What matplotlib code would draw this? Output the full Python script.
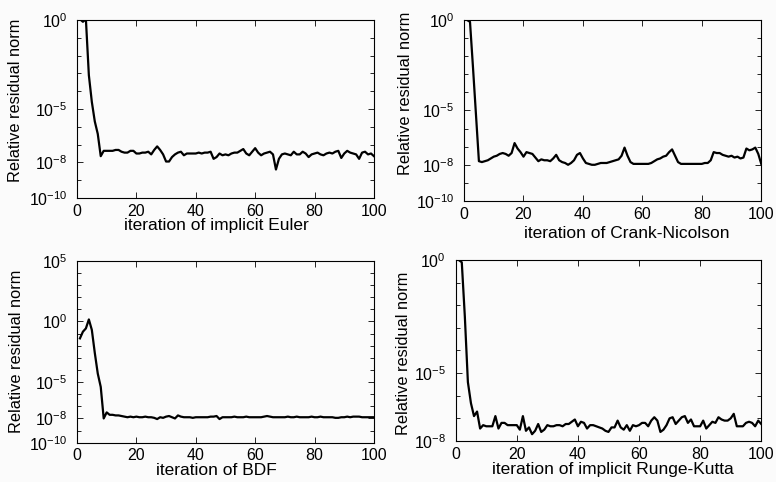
import numpy as np
import matplotlib.pyplot as plt
from matplotlib.ticker import FixedLocator, NullFormatter

plt.rcParams['font.family'] = ['Liberation Sans', 'DejaVu Sans']
plt.rcParams['mathtext.default'] = 'regular'

iters = np.arange(1, 101)

# log10 of the relative residual norm
euler_exp = [0.05, -0.1, 0.05, -3.1, -4.6, -5.7, -6.4, -7.65, -7.35, -7.35,
             -7.35, -7.35, -7.3, -7.3, -7.4, -7.45, -7.45, -7.35, -7.35, -7.5,
             -7.5, -7.45, -7.45, -7.4, -7.55, -7.3, -7.1, -7.3, -7.55, -7.95,
             -7.95, -7.7, -7.55, -7.45, -7.4, -7.6, -7.5, -7.5, -7.5, -7.5,
             -7.45, -7.5, -7.45, -7.45, -7.4, -7.8, -7.7, -7.5, -7.6, -7.55,
             -7.6, -7.5, -7.45, -7.45, -7.35, -7.25, -7.5, -7.6, -7.4, -7.2,
             -7.45, -7.6, -7.5, -7.45, -7.4, -7.55, -8.4, -7.8, -7.55, -7.5,
             -7.55, -7.6, -7.4, -7.55, -7.55, -7.4, -7.5, -7.7, -7.55, -7.5,
             -7.45, -7.55, -7.6, -7.5, -7.45, -7.5, -7.4, -7.35, -7.75, -7.5,
             -7.35, -7.45, -7.5, -7.55, -7.8, -7.45, -7.4, -7.55, -7.5, -7.65]

cn_exp = [0.0, -0.1, -2.6, -5.2, -7.8, -7.85, -7.8, -7.75, -7.65, -7.55,
          -7.5, -7.4, -7.35, -7.4, -7.5, -7.35, -6.8, -7.1, -7.3, -7.55,
          -7.3, -7.35, -7.4, -7.6, -7.8, -7.7, -7.75, -7.75, -7.8, -7.65,
          -7.45, -7.75, -7.85, -7.9, -8.0, -7.9, -7.75, -7.45, -7.35, -7.65,
          -7.9, -7.95, -8.0, -8.0, -7.95, -7.9, -7.9, -7.9, -7.85, -7.8,
          -7.75, -7.7, -7.5, -7.05, -7.5, -7.85, -7.95, -7.95, -7.95, -7.95,
          -7.95, -7.95, -7.9, -7.8, -7.7, -7.65, -7.55, -7.5, -7.3, -7.15,
          -7.5, -7.85, -7.95, -7.95, -7.95, -7.95, -7.95, -7.95, -7.95, -7.95,
          -7.9, -7.9, -7.75, -7.3, -7.35, -7.35, -7.45, -7.5, -7.55, -7.5,
          -7.6, -7.55, -7.65, -7.6, -7.1, -7.2, -7.15, -7.05, -7.4, -7.95]

bdf_exp = [-1.4, -0.85, -0.58, 0.16, -0.7, -2.6, -4.3, -5.4, -8.0, -7.5,
           -7.7, -7.7, -7.75, -7.75, -7.8, -7.85, -7.9, -7.85, -7.9, -7.85,
           -7.9, -7.9, -7.85, -7.9, -7.9, -7.95, -8.05, -7.9, -7.95, -7.85,
           -7.8, -7.9, -8.0, -7.75, -7.85, -7.9, -7.9, -7.9, -7.95, -7.9,
           -7.9, -7.9, -7.9, -7.9, -7.85, -7.85, -7.8, -8.05, -7.9, -7.9,
           -7.9, -7.9, -7.85, -7.9, -7.9, -7.9, -7.85, -7.9, -7.9, -7.9,
           -7.9, -7.9, -7.85, -7.8, -7.85, -7.9, -7.9, -7.9, -7.9, -7.9,
           -7.85, -7.9, -7.9, -7.85, -7.9, -7.9, -7.9, -7.9, -7.85, -7.9,
           -7.9, -7.85, -7.9, -7.9, -7.9, -7.9, -7.95, -7.95, -7.9, -7.9,
           -7.85, -7.9, -7.85, -7.85, -7.85, -7.9, -7.9, -7.9, -7.9, -7.9]

rk_exp = [0.0, -0.1, -2.5, -5.4, -6.33, -6.9, -6.7, -7.45, -7.3, -7.35,
          -7.35, -7.35, -6.9, -7.45, -7.2, -7.2, -7.3, -7.3, -7.3, -7.3,
          -7.5, -6.9, -7.55, -7.4, -7.7, -7.55, -7.25, -7.6, -7.5, -7.3,
          -7.35, -7.35, -7.3, -7.3, -7.35, -7.25, -7.25, -7.15, -7.05, -7.35,
          -7.15, -7.2, -7.45, -7.3, -7.3, -7.35, -7.4, -7.45, -7.55, -7.6,
          -7.4, -7.4, -7.1, -7.4, -7.5, -7.3, -7.55, -7.3, -7.35, -7.3,
          -7.2, -7.2, -7.35, -7.1, -6.95, -7.1, -7.6, -7.5, -7.3, -7.0,
          -6.95, -7.25, -7.1, -6.95, -6.9, -7.2, -7.05, -7.35, -7.35, -7.35,
          -7.1, -7.45, -7.3, -7.15, -7.2, -6.95, -7.05, -7.1, -7.1, -7.0,
          -6.8, -7.35, -7.35, -7.35, -7.2, -7.15, -7.2, -7.35, -7.1, -7.25]

xlabels = ['iteration of implicit Euler', 'iteration of Crank-Nicolson',
           'iteration of BDF', 'iteration of implicit Runge-Kutta']
ylims = [(-10, 0), (-10, 0), (-10, 5), (-8, 0)]
yticks_exp = [[-10, -8, -5, 0], [-10, -8, -5, 0], [-10, -8, -5, 0, 5], [-8, -5, 0]]

# axes boxes in figure fractions
boxes = [[0.0992, 0.5892, 0.3827, 0.3693],
         [0.5980, 0.5830, 0.3830, 0.3755],
         [0.0992, 0.0815, 0.3827, 0.3776],
         [0.5872, 0.0851, 0.3938, 0.3755]]
ylab_pos = [(-0.182, 0.55), (-0.173, 0.597), (-0.178, 0.5), (-0.145, 0.483)]
xlab_pos = [(0.471, -0.112), (0.547, -0.138), (0.47, -0.112), (0.514, -0.116)]

fig = plt.figure(figsize=(7.76, 4.82), dpi=100)
fig.patch.set_facecolor('#fbfbfb')

series = [euler_exp, cn_exp, bdf_exp, rk_exp]
for i in range(4):
    ax = fig.add_axes(boxes[i])
    ax.set_facecolor('#fbfbfb')
    ax.plot(iters, 10.0 ** np.array(series[i]), color='black', lw=1.6)
    ax.set_yscale('log')
    ax.set_xlim(0, 100)
    lo, hi = ylims[i]
    ax.set_ylim(10.0 ** lo, 10.0 ** hi)
    ax.set_xticks([0, 20, 40, 60, 80, 100])
    ax.yaxis.set_major_locator(FixedLocator([10.0 ** e for e in yticks_exp[i]]))
    ax.set_yticklabels([r'$10^{%d}$' % e for e in yticks_exp[i]])
    ax.yaxis.set_minor_locator(FixedLocator([10.0 ** e for e in range(lo, hi + 1)]))
    ax.yaxis.set_minor_formatter(NullFormatter())
    ax.tick_params(which='both', direction='in', top=True, right=True,
                   labelsize=11.5, width=0.6)
    ax.tick_params(which='major', length=4)
    ax.tick_params(which='minor', length=3)
    ax.tick_params(axis='y', pad=7)
    ax.tick_params(axis='x', pad=4)
    for sp in ax.spines.values():
        sp.set_linewidth(0.8)
    ax.set_ylabel('Relative residual norm', fontsize=11.8)
    ax.yaxis.set_label_coords(*ylab_pos[i])
    ax.set_xlabel(xlabels[i], fontsize=12.5)
    ax.xaxis.set_label_coords(*xlab_pos[i])

fig.savefig('out.png', dpi=100, facecolor=fig.get_facecolor())
